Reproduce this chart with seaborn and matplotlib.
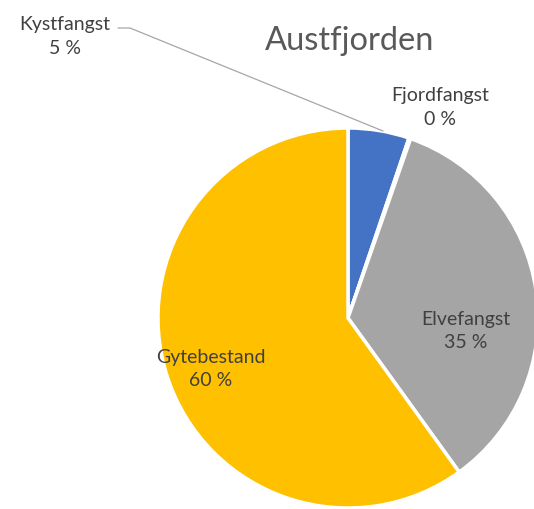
import matplotlib
matplotlib.use("Agg")
import matplotlib.pyplot as plt
import seaborn as sns

# data
categories = ["Kystfangst", "Fjordfangst", "Elvefangst", "Gytebestand"]
shares = [5.2, 0.15, 34.7, 59.95]
shown_pct = [5, 0, 35, 60]
colors = ["#4472C4", "#ED7D31", "#A5A5A5", "#FFC000"]

sns.set_theme(style="white")
plt.rcParams["font.family"] = ["Lato", "DejaVu Sans"]

W, H = 534, 509
fig = plt.figure(figsize=(W / 100, H / 100), dpi=100)
ax = fig.add_axes([0, 0, 1, 1])

# pie geometry in pixel units (y measured from bottom)
cx, cy, r = 348, H - 318, 190
wedges, _ = ax.pie(shares, colors=colors, startangle=90, counterclock=False,
                   center=(cx, cy), radius=r, frame=True,
                   wedgeprops=dict(edgecolor="white", linewidth=2.5))
ax.set_xlim(0, W)
ax.set_ylim(0, H)
ax.set_axis_off()

ax.text(350, H - 41, "Austfjorden", ha="center", va="center",
        fontsize=23.5, color="#595959")

# label layout (pixel positions of label centres)
label_pos = [(65, 36), (440, 107), (466, 331), (211, 369)]
for name, pct, (x, y) in zip(categories, shown_pct, label_pos):
    ax.text(x, H - y, f"{name}\n{pct} %", ha="center", va="center",
            fontsize=14, color="#404040", linespacing=1.5)

# leader line for Kystfangst
ax.plot([118, 130, 383], [H - 28, H - 28, H - 131], color="#A6A6A6", lw=0.9)

fig.savefig("out.png", dpi=100)
